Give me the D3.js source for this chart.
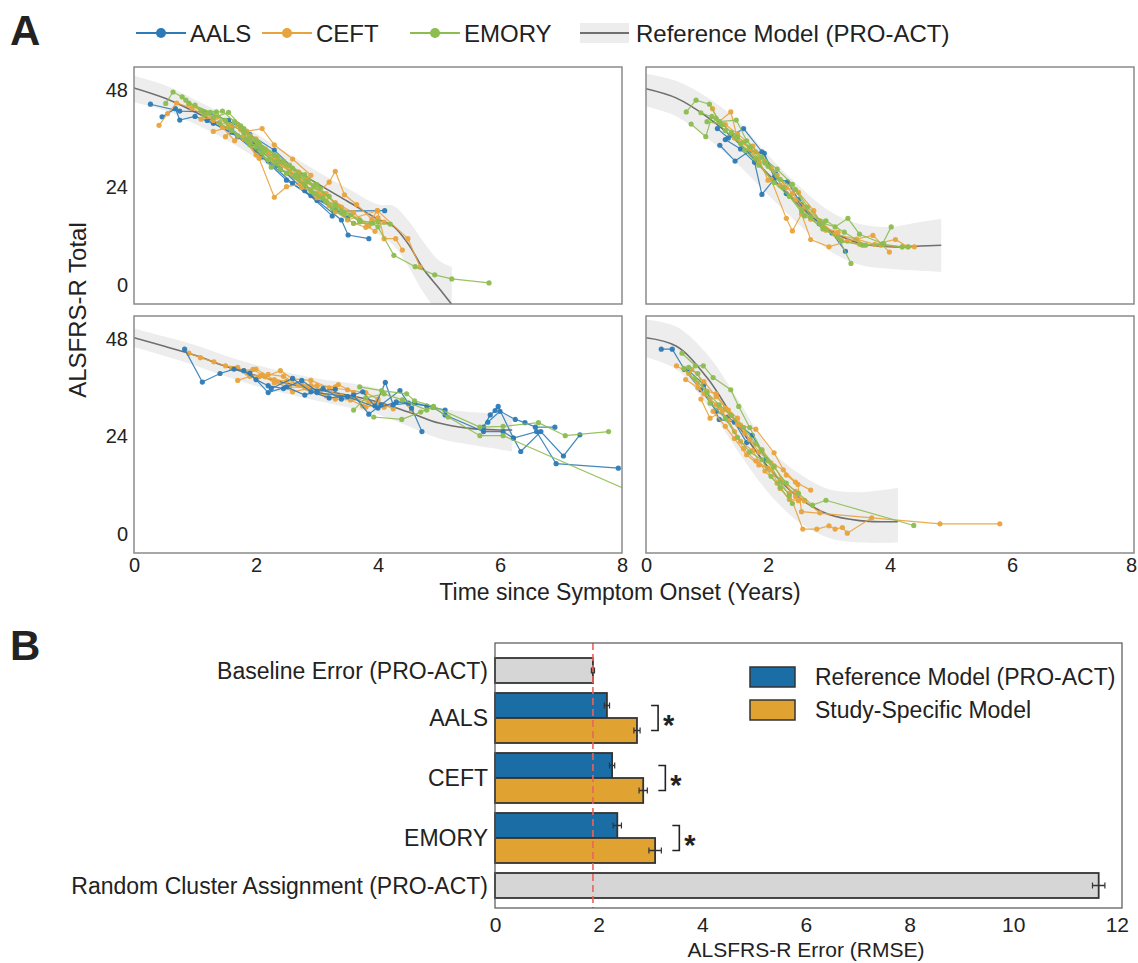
<!DOCTYPE html>
<html><head><meta charset="utf-8">
<script src="https://cdn.jsdelivr.net/npm/d3@7"></script>
<style>
body{margin:0;background:#fff}
svg{display:block}
text{font-family:"Liberation Sans",Arial,Helvetica,sans-serif;fill:#222}
</style>
</head><body>
<svg id="chart" width="1138" height="963"></svg>
<script>
// ---------------- DATA ----------------
const studies = ["AALS", "CEFT", "EMORY"];
const refLabel = "Reference Model (PRO-ACT)";
const xTicksA = [0, 2, 4, 6, 8];
const yTicksA = [0, 24, 48];

// reference model per panel: [years, mean, lower, upper]
const refTopLeft = [[0,48.5,45,51.5],[0.5,46,43,49.2],[1,42.6,39.6,45.6],[1.5,38.8,35.8,41.8],[2,34.3,31.3,37.3],[2.5,29.6,26.6,32.6],[3,25,22,28],[3.5,20.6,17.4,23.8],[4,16.2,12.5,19.8],[4.25,14.5,9.8,19.5],[4.5,10,4.5,15.8],[4.75,3.8,-2,10.5],[5,-0.8,-7,6],[5.21,-4.8,-10,4.4]];
const refTopRight = [[0,48.3,44,52],[0.5,46,41.5,50.2],[1,41.4,36.2,46.2],[1.5,35.2,29.8,40.5],[2,27.3,22.2,32],[2.5,19.8,15,24.5],[3,13.6,8.5,18.3],[3.5,10.3,5,15],[4,9.4,4,14.3],[4.5,9.6,3.5,15.5],[4.84,9.8,3.2,16.3]];
const refBottomLeft = [[0,48.3,46,50.6],[0.5,46.2,43.8,48.6],[1,44,41.5,46.5],[1.5,41.3,38.8,43.9],[2,39,36.4,41.6],[2.5,37.1,34.5,39.8],[3,35.5,32.8,38.3],[3.5,34.2,31.2,37.2],[4,32.5,29.4,35.8],[4.5,30,26.5,33.4],[5,27.3,23.5,31],[5.5,26,22,30],[6,25.6,20.8,29.5],[6.2,25.6,20.3,29]];
const refBottomRight = [[0,48.3,43.5,52.8],[0.5,46.2,40.5,51],[1,38.5,31.8,44.3],[1.5,27,20.5,33.3],[2,16.5,10.3,21.5],[2.5,9,3,15],[3,4.8,-1,11],[3.5,3.3,-2.1,10.3],[4.13,3,-2.1,11.4]];

// patient trajectories per panel: study, [years, ALSFRS-R total]
const trajTopLeft = [
 {s:"AALS", p:[[0.27,44.5],[0.75,42.8],[1.15,42.6],[1.55,40.5],[1.9,37],[2.3,33.2],[2.7,27.5]]},
 {s:"AALS", p:[[0.46,41.4],[0.68,43.4],[0.75,40.6],[1.0,41.5],[1.3,39.8],[1.7,36.5],[2.1,31.5],[2.5,25.8],[2.9,22],[3.3,18.5],[3.5,16.5]]},
 {s:"AALS", p:[[1.6,38.5],[2.0,33],[2.4,28.5],[2.8,24.5],[3.1,21],[3.28,18.2],[4.11,18.3]]},
 {s:"AALS", p:[[2.2,30.5],[2.6,25],[3.0,20.8],[3.4,16],[3.51,12.3],[3.85,11.4]]},
 {s:"AALS", p:[[1.2,40.5],[1.6,37.6],[1.95,34.8],[2.35,29.5],[2.8,23.2],[3.25,17]]},
 {s:"CEFT", p:[[0.41,39.3],[0.55,42.2],[0.7,44.8],[0.95,43.5],[1.3,40.5],[1.6,39.2]]},
 {s:"CEFT", p:[[0.9,44.5],[1.2,42],[1.45,38.8],[1.65,35.5],[1.85,37.8],[2.1,38.5],[2.3,34.5],[2.6,31],[2.9,27]]},
 {s:"CEFT", p:[[1.3,37.8],[1.55,38.8],[1.8,36],[2.0,32],[2.3,30.5],[2.55,28],[2.8,25.5],[3.1,22.5],[3.3,20.3],[3.6,17.8],[3.85,14.5],[4.0,16.5]]},
 {s:"CEFT", p:[[1.7,39.5],[2.0,36],[2.25,31],[2.5,29.5],[2.75,24],[3.0,22.5],[3.2,25.3],[3.3,28],[3.45,22.2],[3.65,19.8],[3.9,16.2],[4.1,15.5]]},
 {s:"CEFT", p:[[1.9,35],[2.2,32.5],[2.45,30],[2.7,26],[2.9,23.5],[3.0,21.5],[3.15,22.5],[3.35,19.5],[3.5,16],[3.99,18.3],[4.1,11.4],[4.29,11.4],[4.4,8.6]]},
 {s:"CEFT", p:[[1.8,36.5],[2.05,31.2],[2.3,21.6],[2.5,24.2],[2.75,24.8],[3.0,22]]},
 {s:"CEFT", p:[[3.3,18],[3.6,15.2],[3.8,14.2],[3.99,18.3],[4.49,11.4],[4.69,4.4]]},
 {s:"CEFT", p:[[1.1,40.8],[1.35,41.3],[1.55,39.5],[1.75,38.2],[2.05,34.8],[2.35,31.5],[2.7,27.8],[2.95,24.5],[3.15,20.7],[3.4,19.2],[3.7,16],[3.95,13.2]]},
 {s:"CEFT", p:[[1.5,36.5],[1.7,39.6],[1.9,36.8],[2.15,33.5],[2.4,29.8],[2.6,27.2],[2.85,26],[3.05,21.8],[3.2,19.5]]},
 {s:"EMORY", p:[[0.52,44.7],[0.64,47.5],[0.79,46.3],[0.9,44.8],[1.25,42.5],[1.5,40.5],[1.8,37.5],[2.1,33.8]]},
 {s:"EMORY", p:[[0.85,45.5],[1.1,43],[1.35,42.6],[1.6,38],[1.9,34.5],[2.2,30.8],[2.5,27.5],[2.8,24.7],[3.1,21.5],[3.4,18.2],[3.7,16],[3.91,15.2],[4.0,14.3],[4.26,7.3],[4.61,4.5],[4.93,2.5],[5.21,1.5],[5.82,0.5]]},
 {s:"EMORY", p:[[1.15,41.8],[1.45,42.8],[1.65,40.2],[1.85,36],[2.1,32.5],[2.35,30.2],[2.6,28.8],[2.85,25.5],[3.05,23.8]]},
 {s:"EMORY", p:[[1.4,40],[1.7,36.8],[2.0,34.2],[2.25,29],[2.45,30.5],[2.7,26.8],[2.95,24.2],[3.2,21.8]]},
 {s:"EMORY", p:[[1.8,38.5],[2.05,35],[2.35,31.8],[2.55,29.5],[2.8,27.2],[3.0,24.7],[3.3,19.8],[3.55,17.2],[3.7,15.5],[4.0,15.6]]},
 {s:"EMORY", p:[[1.0,44.3],[1.3,41.2],[1.55,42.5],[1.75,39.2],[2.0,35.5],[2.3,32],[2.65,26.5],[2.9,23],[3.15,20.5],[3.45,17.5]]},
 {s:"EMORY", p:[[1.9,36],[2.15,33],[2.4,28.5],[2.65,27],[2.95,22.5],[3.25,18.8],[3.6,15.2],[4.2,15]]}
];
const trajTopRight = [
 {s:"AALS", p:[[1.17,38.5],[1.35,36.2],[1.6,38.5],[1.9,32.8],[2.13,27.3]]},
 {s:"AALS", p:[[1.21,34.4],[1.46,30.5],[1.7,33],[1.94,32.4],[2.1,26.5],[2.32,25.4],[2.5,21]]},
 {s:"AALS", p:[[1.3,35.8],[1.55,33.5],[1.78,30.2],[1.9,22.3],[2.1,26],[2.3,22.5],[2.55,19.8],[2.84,15.1],[3.05,12.8],[3.27,8.3]]},
 {s:"CEFT", p:[[1.09,43.4],[1.2,40.2],[1.39,42.6],[1.5,36],[1.7,33.5],[1.85,30],[2.05,26],[2.3,16.4],[2.4,13.3],[2.55,17.5],[2.7,11.2],[3.0,9.4],[3.3,10.8],[3.72,12.2],[3.99,8.1]]},
 {s:"CEFT", p:[[1.3,39.5],[1.5,37.2],[1.75,34.2],[1.95,30.5],[2.15,27],[2.4,22.5],[2.6,19.2],[2.85,15.8],[3.1,12.5],[3.45,11.3],[3.75,10],[4.09,11.2],[4.29,9.4],[4.4,9.4]]},
 {s:"CEFT", p:[[1.6,35.2],[1.85,31],[2.0,25.8],[2.2,24.5],[2.45,21],[2.7,16.2],[2.95,13.5],[3.2,11],[3.5,10],[3.85,9.8],[4.2,9.4]]},
 {s:"CEFT", p:[[1.45,36.2],[1.8,32.8],[2.05,28.8],[2.3,24],[2.5,22.8],[2.75,18.3],[2.9,14.2],[3.15,13]]},
 {s:"EMORY", p:[[0.66,42.6],[0.82,45.5],[1.04,44.5],[1.2,40.2],[1.48,40.6],[1.65,35.5],[1.9,31.5],[2.15,28.5],[2.4,24.8],[2.65,19.2],[2.9,15.2],[3.1,14.3],[3.31,16.4],[3.5,12.5],[3.88,10.2],[4.02,14.3]]},
 {s:"EMORY", p:[[0.74,39.6],[0.98,36.5],[1.08,41.5],[1.3,38],[1.55,34.8],[1.8,31.2],[2.0,29.2],[2.25,24],[2.55,18.3],[2.9,13.8],[3.15,11.7],[3.36,5.3]]},
 {s:"EMORY", p:[[0.9,42.4],[1.15,41],[1.4,37.5],[1.62,33.2],[1.85,29.5],[2.1,25.2],[2.35,21.8],[2.6,17],[2.85,15.2],[3.2,10.8],[3.55,9.8],[3.9,10],[4.2,9.4],[4.3,9.4]]},
 {s:"EMORY", p:[[1.0,40.2],[1.25,39.5],[1.5,36.5],[1.7,34],[1.95,30],[2.2,26],[2.45,23.5],[2.7,16.8],[2.95,15.8],[3.25,13],[3.6,9.8]]}
];
const trajBottomLeft = [
 {s:"CEFT", p:[[0.9,44.5],[1.09,43.4],[1.31,42.4],[1.5,41.4],[1.7,41],[1.85,39.6],[2.05,38.7],[2.3,38],[2.5,37.6],[2.75,36.8],[3.0,36.5],[3.3,36.2]]},
 {s:"CEFT", p:[[1.6,40.8],[1.8,40.2],[1.95,40.5],[2.15,38.7],[2.4,40.2],[2.6,38.2],[2.9,37.8],[3.2,36],[3.5,35.5],[3.8,34.8],[4.0,33.2]]},
 {s:"CEFT", p:[[1.7,37.8],[1.9,38.8],[2.1,39.2],[2.3,37.2],[2.55,36.2],[2.8,36],[3.05,34.8],[3.3,33.2],[3.55,33],[3.8,31.2],[3.95,31.8]]},
 {s:"CEFT", p:[[2.2,39.3],[2.45,38.8],[2.7,36.7],[2.9,36.5],[3.1,35.6],[3.4,34],[3.6,33.5],[3.85,32.5],[4.1,31.2],[4.4,32.8],[4.55,30.5]]},
 {s:"CEFT", p:[[2.0,40.6],[2.35,37.5],[2.6,35],[2.85,35.8],[3.15,34],[3.35,36.8],[3.6,34.8],[3.75,31.5],[4.0,32.5],[4.25,30.8]]},
 {s:"AALS", p:[[0.83,45.5],[1.12,37.4],[1.41,39.5],[1.64,40.6],[1.8,40.2],[2.0,38],[2.2,36.5],[2.45,35.8],[2.75,37.8],[3.0,35.2],[3.3,35.6]]},
 {s:"AALS", p:[[1.9,39.6],[2.2,34.8],[2.5,36.2],[2.8,34.2],[3.1,35.8],[3.4,33.2],[3.75,35],[3.95,31.5],[4.12,37.3],[4.25,31.8],[4.5,32.2],[4.8,31.5],[5.1,30.5]]},
 {s:"AALS", p:[[2.25,35.8],[2.6,38.3],[2.9,35],[3.2,33.5],[3.6,34.2],[3.85,29.5],[4.05,31.8],[4.36,35.3],[4.55,31],[4.72,25.2]]},
 {s:"AALS", p:[[3.0,34.8],[3.5,33.8],[4.0,31],[4.3,32.5],[4.6,32.2],[4.9,31.2],[5.1,29.3],[5.73,25.2],[6.05,25.2],[6.22,23.6],[6.6,25.2],[6.92,17.3],[7.94,16.2]]},
 {s:"AALS", p:[[5.73,26.3],[5.84,29.3],[5.92,30.4],[5.97,31.4],[6.22,23.6],[6.34,20.3],[6.67,25.2],[7.04,19.2],[7.31,24.4]]},
 {s:"AALS", p:[[5.8,27.5],[6.0,30.2],[6.25,28.2],[6.41,27.4],[6.58,26.3],[6.9,26.3]]},
 {s:"EMORY", p:[[3.7,36.2],[4.06,35.3],[4.47,34.5],[4.6,32.8],[4.91,31.4],[5.67,26.3],[6.05,26.5],[6.63,27.4],[7.07,24.2],[7.78,25.2]]},
 {s:"EMORY", p:[[3.93,28.8],[4.39,28.2],[4.7,30],[4.9,31.2],[5.15,28.8],[5.67,24.2],[6.05,24.2],[8.6,7.5]]},
 {s:"EMORY", p:[[3.6,30.5],[3.8,33.5],[4.1,34.5],[4.4,33],[4.8,30.5]]}
];
const trajBottomRight = [
 {s:"AALS", p:[[0.25,45.5],[0.43,45.5],[0.63,40.5],[0.9,35.5],[1.15,30.3],[1.34,28.8],[1.55,26.5],[1.74,24.3],[1.97,18.4]]},
 {s:"AALS", p:[[0.7,40.2],[0.95,36.8],[1.2,28.2],[1.45,27.5],[1.65,22.5]]},
 {s:"CEFT", p:[[0.5,41.4],[0.7,39.5],[0.95,34.5],[1.15,31.8],[1.35,28],[1.55,22.8],[1.75,20.5],[1.95,15.5],[2.15,12.5],[2.35,10],[2.57,1.2],[2.8,1.2],[3.0,2.0],[3.1,1.2],[3.22,1.6],[3.3,0.2],[3.7,4.0]]},
 {s:"CEFT", p:[[0.65,38],[0.85,36],[1.05,33.2],[1.2,31.2],[1.38,29.5],[1.55,26.8],[1.8,25.8],[2.1,20],[2.3,14.5],[2.49,12.2],[2.55,5.5],[4.82,2.5],[5.8,2.5]]},
 {s:"CEFT", p:[[0.9,33.2],[1.05,28.5],[1.25,30.2],[1.45,25.2],[1.6,21],[1.8,18],[2.0,16.2],[2.2,13.5],[2.45,10.5],[2.6,8.2],[2.85,5.2]]},
 {s:"CEFT", p:[[0.85,37.2],[1.0,35.2],[1.15,34.5],[1.3,31],[1.5,27],[1.62,24.8],[1.85,20.2],[2.05,17.5],[2.25,15.8],[2.45,12.8],[2.7,10.8]]},
 {s:"CEFT", p:[[1.1,30.2],[1.3,26.5],[1.45,23.5],[1.65,19.5],[1.85,17],[2.05,15.8],[2.2,11.2],[2.35,8.5],[2.5,8.2]]},
 {s:"CEFT", p:[[0.75,40.5],[0.95,37.5],[1.15,33.8],[1.35,30.5],[1.5,28.5],[1.7,23.2],[1.9,20.8],[2.1,16.8],[2.25,12.8],[2.45,9.2],[2.6,8.2]]},
 {s:"EMORY", p:[[0.59,44.5],[0.81,41.4],[0.94,41.4],[1.1,38.5],[1.39,35.5],[1.52,31.4],[1.7,26.2],[1.9,20.5],[2.1,16.5],[2.3,12.5],[2.5,10],[2.73,7.1],[2.95,8.3],[4.39,2.1]]},
 {s:"EMORY", p:[[0.62,40.8],[0.8,38.2],[1.0,34.8],[1.2,31.8],[1.4,29.2],[1.6,26.2],[1.8,22.2],[2.0,18],[2.2,12.8],[2.35,9.5]]},
 {s:"EMORY", p:[[0.7,41],[0.85,39.5],[1.05,32.2],[1.3,28.5],[1.5,23.8],[1.7,20.2],[1.9,18.3],[2.05,14.2],[2.2,11.5],[2.4,7.5]]}
];

// Panel B
const barCategories = ["Baseline Error (PRO-ACT)", "AALS", "CEFT", "EMORY", "Random Cluster Assignment (PRO-ACT)"];
const modelNames = ["Reference Model (PRO-ACT)", "Study-Specific Model"];
const baselineRMSE = 1.89, baselineErr = 0.03;
const randomRMSE = 11.65, randomErr = 0.12;
const refModelRMSE = [2.16, 2.26, 2.36];
const refModelErr = [0.05, 0.05, 0.08];
const studyModelRMSE = [2.74, 2.86, 3.09];
const studyModelErr = [0.06, 0.08, 0.12];
const xTicksB = [0, 2, 4, 6, 8, 10, 12];

// ---------------- STYLE ----------------
const studyColor = d3.scaleOrdinal().domain(studies).range(["#2c7bb6", "#e9a33c", "#8cbd4f"]);
const barBlue = "#1a6ea5", barOrange = "#e0a332", barGray = "#d6d6d6";
const svg = d3.select("#chart");
const font = '"Liberation Sans",Arial,sans-serif';

// ---------------- PANEL A ----------------
const panelW = 488, panelH = 237;
const panels = [
  {x0:134, y0:67, ref:refTopLeft, traj:trajTopLeft, yt:true, xt:false},
  {x0:646, y0:67, ref:refTopRight, traj:trajTopRight, yt:false, xt:false},
  {x0:134, y0:316, ref:refBottomLeft, traj:trajBottomLeft, yt:true, xt:true},
  {x0:646, y0:316, ref:refBottomRight, traj:trajBottomRight, yt:false, xt:true}
];
const defs = svg.append("defs");
panels.forEach((p, i) => {
  const x = d3.scaleLinear().domain([0, 8]).range([p.x0, p.x0 + panelW]);
  const y = d3.scaleLinear().domain([-4.68, 53.66]).range([p.y0 + panelH, p.y0]);
  defs.append("clipPath").attr("id", "clip" + i).append("rect")
    .attr("x", p.x0).attr("y", p.y0).attr("width", panelW).attr("height", panelH);
  const g = svg.append("g");
  const inner = g.append("g").attr("clip-path", `url(#clip${i})`);
  const area = d3.area().x(d => x(d[0])).y0(d => y(d[2])).y1(d => y(d[3])).curve(d3.curveCatmullRom.alpha(0.5));
  const line = d3.line().x(d => x(d[0])).y(d => y(d[1])).curve(d3.curveCatmullRom.alpha(0.5));
  inner.append("path").datum(p.ref).attr("d", area).attr("fill", "#ededed");
  inner.append("path").datum(p.ref).attr("d", line).attr("fill", "none").attr("stroke", "#6f6f6f").attr("stroke-width", 1.6);
  const tl = d3.line().x(d => x(d[0])).y(d => y(d[1]));
  const tg = inner.selectAll("g.traj").data(p.traj).join("g").attr("class", "traj");
  tg.append("path").attr("d", d => tl(d.p)).attr("fill", "none")
    .attr("stroke", d => studyColor(d.s)).attr("stroke-width", 1.2).attr("stroke-opacity", 0.9);
  tg.selectAll("circle").data(d => d.p.map(q => ({q, s:d.s}))).join("circle")
    .attr("cx", d => x(d.q[0])).attr("cy", d => y(d.q[1])).attr("r", 2.6)
    .attr("fill", d => studyColor(d.s)).attr("fill-opacity", 0.95);
  g.append("rect").attr("x", p.x0).attr("y", p.y0).attr("width", panelW).attr("height", panelH)
    .attr("fill", "none").attr("stroke", "#8a8a8a").attr("stroke-width", 1.5);
  if (p.yt) {
    const ya = g.append("g").attr("transform", `translate(${p.x0 - 6},0)`)
      .call(d3.axisLeft(y).tickValues(yTicksA).tickSize(0).tickPadding(0));
    ya.select(".domain").remove();
    ya.selectAll("text").attr("font-size", 20).attr("font-family", font).attr("fill", "#222");
  }
  if (p.xt) {
    const xa = g.append("g").attr("transform", `translate(0,${p.y0 + panelH + 5})`)
      .call(d3.axisBottom(x).tickValues(xTicksA).tickSize(0).tickPadding(0));
    xa.select(".domain").remove();
    xa.selectAll("text").attr("font-size", 20).attr("font-family", font).attr("fill", "#222")
      .attr("dx", d => (i === 3 && d === 8) ? -3 : 0);
  }
});
svg.append("text").attr("x", 620).attr("y", 600).attr("text-anchor", "middle")
  .attr("font-size", 23).text("Time since Symptom Onset (Years)");
svg.append("text").attr("transform", "translate(86,310) rotate(-90)").attr("text-anchor", "middle")
  .attr("font-size", 24).text("ALSFRS-R Total");
svg.append("text").attr("x", 10).attr("y", 45).attr("font-size", 42).attr("font-weight", "bold").text("A");

// legend A
const legA = svg.append("g");
const legX = [136, 262, 410];
studies.forEach((s, i) => {
  const lg = legA.append("g").attr("transform", `translate(${legX[i]},33)`);
  lg.append("line").attr("x1", 0).attr("x2", 50).attr("stroke", studyColor(s)).attr("stroke-width", 2);
  lg.append("circle").attr("cx", 25).attr("r", 5).attr("fill", studyColor(s));
  lg.append("text").attr("x", 54).attr("y", 8.5).attr("font-size", 24).text(s);
});
const lr = legA.append("g").attr("transform", "translate(580,33)");
lr.append("rect").attr("x", 0).attr("y", -10).attr("width", 49).attr("height", 20).attr("fill", "#ededed");
lr.append("line").attr("x1", 0).attr("x2", 49).attr("stroke", "#6f6f6f").attr("stroke-width", 2);
lr.append("text").attr("x", 56).attr("y", 8.5).attr("font-size", 24).text(refLabel);

// ---------------- PANEL B ----------------
const bx0 = 495, bx1 = 1122, by0 = 643, by1 = 908;
const xb = d3.scaleLinear().domain([0, 12.1]).range([bx0, bx1]);
const yb = d3.scaleBand().domain(barCategories).range([628, 928]).padding(0);
const ySub = d3.scaleBand().domain(modelNames).range([5, 55]).padding(0);
const gB = svg.append("g");
svg.append("text").attr("x", 10).attr("y", 660).attr("font-size", 42).attr("font-weight", "bold").text("B");

const bars = [];
bars.push({cat:barCategories[0], slot:modelNames[1], v:baselineRMSE, e:baselineErr, fill:barGray});
studies.forEach((s, i) => {
  bars.push({cat:s, slot:modelNames[0], v:refModelRMSE[i], e:refModelErr[i], fill:barBlue});
  bars.push({cat:s, slot:modelNames[1], v:studyModelRMSE[i], e:studyModelErr[i], fill:barOrange});
});
bars.push({cat:barCategories[4], slot:modelNames[0], v:randomRMSE, e:randomErr, fill:barGray});

gB.selectAll("rect.bar").data(bars).join("rect").attr("class", "bar")
  .attr("x", xb(0)).attr("y", d => yb(d.cat) + ySub(d.slot))
  .attr("width", d => xb(d.v) - xb(0)).attr("height", ySub.bandwidth())
  .attr("fill", d => d.fill).attr("stroke", "#333").attr("stroke-width", 1.8);
// error bars
const eb = gB.selectAll("g.err").data(bars).join("g").attr("class", "err");
eb.append("line").attr("x1", d => xb(d.v - d.e)).attr("x2", d => xb(d.v + d.e))
  .attr("y1", d => yb(d.cat) + ySub(d.slot) + ySub.bandwidth() / 2)
  .attr("y2", d => yb(d.cat) + ySub(d.slot) + ySub.bandwidth() / 2)
  .attr("stroke", "#333").attr("stroke-width", 1.5);
[-1, 1].forEach(k => {
  eb.append("line").attr("x1", d => xb(d.v + k * d.e)).attr("x2", d => xb(d.v + k * d.e))
    .attr("y1", d => yb(d.cat) + ySub(d.slot) + ySub.bandwidth() / 2 - 3)
    .attr("y2", d => yb(d.cat) + ySub(d.slot) + ySub.bandwidth() / 2 + 3)
    .attr("stroke", "#333").attr("stroke-width", 1.2);
});
// significance brackets
studies.forEach((s, i) => {
  const bxp = xb(Math.max(studyModelRMSE[i] + studyModelErr[i], refModelRMSE[i] + refModelErr[i])) + 18;
  const ya = yb(s) + ySub(modelNames[0]) + ySub.bandwidth() / 2;
  const yo = yb(s) + ySub(modelNames[1]) + ySub.bandwidth() / 2;
  gB.append("path").attr("d", `M${bxp - 7},${ya}H${bxp}V${yo}H${bxp - 7}`)
    .attr("fill", "none").attr("stroke", "#222").attr("stroke-width", 1.6);
  gB.append("text").attr("x", bxp + 5).attr("y", (ya + yo) / 2 + 17).attr("font-size", 29)
    .attr("font-weight", "bold").text("*");
});
// dashed baseline
gB.append("line").attr("x1", xb(baselineRMSE)).attr("x2", xb(baselineRMSE)).attr("y1", by0).attr("y2", by1)
  .attr("stroke", "#e8655c").attr("stroke-width", 1.6).attr("stroke-dasharray", "7,4");
// frame
gB.append("rect").attr("x", bx0).attr("y", by0).attr("width", bx1 - bx0).attr("height", by1 - by0)
  .attr("fill", "none").attr("stroke", "#555").attr("stroke-width", 1.2);
// y labels
const ylab = bars.filter(d => d.cat === barCategories[0] || d.cat === barCategories[4])
  .map(d => ({t:d.cat, y:yb(d.cat) + ySub(d.slot) + ySub.bandwidth() / 2}))
  .concat(studies.map(s => ({t:s, y:yb(s) + yb.bandwidth() / 2})));
gB.selectAll("text.ylab").data(ylab).join("text").attr("class", "ylab")
  .attr("x", 488).attr("y", d => d.y).attr("dy", "0.35em").attr("text-anchor", "end")
  .attr("font-size", 23).text(d => d.t);
// x axis
const xaB = gB.append("g").attr("transform", `translate(0,${by1 + 9})`)
  .call(d3.axisBottom(xb).tickValues(xTicksB).tickSize(0).tickPadding(0));
xaB.select(".domain").remove();
xaB.selectAll("text").attr("font-size", 21).attr("font-family", font).attr("fill", "#222");
gB.append("text").attr("x", 806).attr("y", 957).attr("text-anchor", "middle").attr("font-size", 21)
  .text("ALSFRS-R Error (RMSE)");
// legend B
const legB = gB.append("g").attr("transform", "translate(750,667)");
modelNames.forEach((m, i) => {
  legB.append("rect").attr("x", 0).attr("y", i * 33).attr("width", 45).attr("height", 20)
    .attr("fill", i === 0 ? barBlue : barOrange).attr("stroke", "#333").attr("stroke-width", 1.5);
  legB.append("text").attr("x", 65).attr("y", i * 33 + 10).attr("dy", "0.35em").attr("font-size", 23).text(m);
});
</script>
</body></html>
